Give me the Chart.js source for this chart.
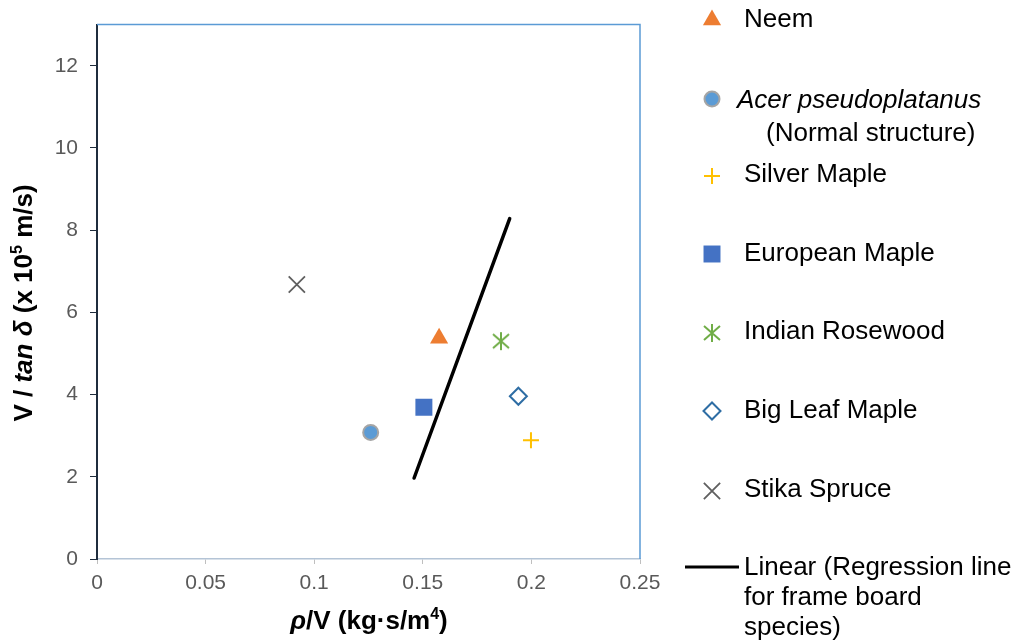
<!DOCTYPE html>
<html>
<head>
<meta charset="utf-8">
<script src="https://cdn.jsdelivr.net/npm/chart.js@4.4.0/dist/chart.umd.min.js"></script>
<style>
  html, body { margin: 0; padding: 0; background: #fff; }
  #wrap { width: 1019px; height: 644px; position: relative; }
</style>
</head>
<body>
<div id="wrap"><canvas id="chart"></canvas></div>
<script>
// Данные
const speciesNames = ["Neem", "Acer pseudoplatanus", "Silver Maple", "European Maple",
  "Indian Rosewood", "Big Leaf Maple", "Stika Spruce"];
const speciesX = [0.1575, 0.126, 0.1998, 0.1505, 0.186, 0.194, 0.092];
const speciesY = [5.37, 3.08, 2.89, 3.69, 5.30, 3.96, 6.68];
const regressionX = [0.146, 0.190];
const regressionY = [1.97, 8.28];
const xTicks = [0, 0.05, 0.1, 0.15, 0.2, 0.25];
const yTicks = [0, 2, 4, 6, 8, 10, 12];

const FONT = "'Liberation Sans', Arial, sans-serif";

// Звездочка (вертикаль + X) как отдельная картинка
function makeAsterisk(color) {
  const c = document.createElement("canvas");
  c.width = 20; c.height = 20;
  const g = c.getContext("2d");
  g.strokeStyle = color;
  g.lineWidth = 2;
  g.beginPath();
  g.moveTo(10, 1); g.lineTo(10, 19);
  g.moveTo(2, 3); g.lineTo(18, 17);
  g.moveTo(18, 3); g.lineTo(2, 17);
  g.stroke();
  return c;
}

// Стили маркеров
const markers = [
  { pointStyle: "triangle", radius: 10.5, bg: "#ED7D31", border: "#ED7D31", bw: 0 },
  { pointStyle: "circle", radius: 7.5, bg: "#5B9BD5", border: "#A5A5A5", bw: 2 },
  { pointStyle: "cross", radius: 8, bg: "#FFC000", border: "#FFC000", bw: 2 },
  { pointStyle: "rect", radius: 12, bg: "#4472C4", border: "#4472C4", bw: 0 },
  { pointStyle: makeAsterisk("#70AD47"), radius: 10, bg: "#70AD47", border: "#70AD47", bw: 0 },
  { pointStyle: "rectRot", radius: 8.5, bg: "#FFFFFF", border: "#2E6DA4", bw: 2 },
  { pointStyle: "crossRot", radius: 11.5, bg: "#5F5F5F", border: "#5F5F5F", bw: 1.8 },
];

const datasets = speciesNames.map((name, i) => ({
  label: name,
  data: [{ x: speciesX[i], y: speciesY[i] }],
  pointStyle: markers[i].pointStyle,
  pointRadius: markers[i].radius,
  pointHoverRadius: markers[i].radius,
  backgroundColor: markers[i].bg,
  borderColor: markers[i].border,
  pointBorderWidth: markers[i].bw,
  showLine: false,
}));

datasets.push({
  label: "Linear (Regression line for frame board species)",
  data: regressionX.map((x, i) => ({ x: x, y: regressionY[i] })),
  showLine: true,
  borderColor: "#000000",
  borderWidth: 3.5,
  pointRadius: 0,
  borderCapStyle: "round",
});

// Текст из кусков разного начертания
function drawRuns(ctx, runs, cx, cy) {
  let total = 0;
  runs.forEach((r) => {
    ctx.font = r.font;
    r.w = ctx.measureText(r.text).width;
    total += r.w;
  });
  let x = cx - total / 2;
  ctx.textAlign = "left";
  ctx.textBaseline = "middle";
  runs.forEach((r) => {
    ctx.font = r.font;
    ctx.fillText(r.text, x, cy + (r.dy || 0));
    x += r.w;
  });
}

const decorPlugin = {
  id: "decor",
  afterDraw(chart) {
    const ctx = chart.ctx;
    const a = chart.chartArea;
    ctx.save();

    // Верхняя и правая рамка
    ctx.strokeStyle = "#5B9BD5";
    ctx.lineWidth = 1.5;
    ctx.beginPath();
    ctx.moveTo(a.left, a.top);
    ctx.lineTo(a.right, a.top);
    ctx.lineTo(a.right, a.bottom);
    ctx.stroke();

    // Подписи осей
    ctx.fillStyle = "#000";
    const b = "bold 26px " + FONT;
    const bi = "italic bold 26px " + FONT;
    const sup = "bold 16px " + FONT;
    drawRuns(ctx, [
      { text: "ρ", font: bi },
      { text: "/V (kg·s/m", font: b },
      { text: "4", font: sup, dy: -7 },
      { text: ")", font: b },
    ], 369, 622);

    ctx.save();
    ctx.translate(25, 303);
    ctx.rotate(-Math.PI / 2);
    drawRuns(ctx, [
      { text: "V / ", font: b },
      { text: "tan δ", font: bi },
      { text: " (x 10", font: b },
      { text: "5", font: sup, dy: -7 },
      { text: " m/s)", font: b },
    ], 0, 0);
    ctx.restore();

    // Легенда
    const lx = 712;
    const rows = [20, 99, 176, 254, 333, 411, 491];
    const textY = [20, 101, 175, 254, 332, 411, 490];
    speciesNames.forEach((name, i) => {
      const m = markers[i];
      ctx.fillStyle = m.bg;
      ctx.strokeStyle = m.border;
      ctx.lineWidth = m.bw;
      Chart.helpers.drawPoint(ctx, {
        pointStyle: m.pointStyle, radius: m.radius, rotation: 0, borderWidth: m.bw,
      }, lx, rows[i]);
      ctx.fillStyle = "#000";
      ctx.textAlign = "left";
      ctx.textBaseline = "middle";
      if (i === 1) {
        ctx.font = "italic 26px " + FONT;
        ctx.fillText(name, 737, textY[i]);
        ctx.font = "26px " + FONT;
        ctx.fillText("(Normal structure)", 766, 134);
      } else {
        ctx.font = "26px " + FONT;
        ctx.fillText(name, 744, textY[i]);
      }
    });

    ctx.strokeStyle = "#000";
    ctx.lineWidth = 3;
    ctx.beginPath();
    ctx.moveTo(685, 567);
    ctx.lineTo(739, 567);
    ctx.stroke();
    ctx.fillStyle = "#000";
    ctx.font = "26px " + FONT;
    ["Linear (Regression line", "for frame board", "species)"].forEach((t, k) => {
      ctx.fillText(t, 744, 568 + k * 30);
    });

    ctx.restore();
  },
};

new Chart(document.getElementById("chart"), {
  type: "scatter",
  data: { datasets: datasets },
  options: {
    responsive: true,
    maintainAspectRatio: false,
    animation: false,
    events: [],
    layout: { padding: { left: 0, right: 379, top: 24, bottom: 0 } },
    plugins: {
      legend: { display: false },
      tooltip: { enabled: false },
    },
    scales: {
      x: {
        type: "linear",
        min: 0,
        max: 0.25,
        afterFit: (s) => { s.height = 85; },
        afterBuildTicks: (s) => { s.ticks = xTicks.map((v) => ({ value: v })); },
        grid: { drawOnChartArea: false, drawTicks: true, tickLength: 5, color: "#BFBFBF" },
        border: { display: true, color: "#B4C4D6", width: 1.5 },
        ticks: {
          color: "#595959",
          font: { family: FONT, size: 21 },
          padding: 7,
          maxRotation: 0,
          callback: (v) => String(Number(v.toFixed(2))),
        },
      },
      y: {
        type: "linear",
        min: 0,
        max: 13,
        afterFit: (s) => { s.width = 97; },
        afterBuildTicks: (s) => { s.ticks = yTicks.map((v) => ({ value: v })); },
        grid: { drawOnChartArea: false, drawTicks: true, tickLength: 7, color: "#1F2D3D" },
        border: { display: true, color: "#1F2D3D", width: 2 },
        ticks: {
          color: "#595959",
          font: { family: FONT, size: 21 },
          padding: 12,
        },
      },
    },
  },
  plugins: [decorPlugin],
});
</script>
</body>
</html>
